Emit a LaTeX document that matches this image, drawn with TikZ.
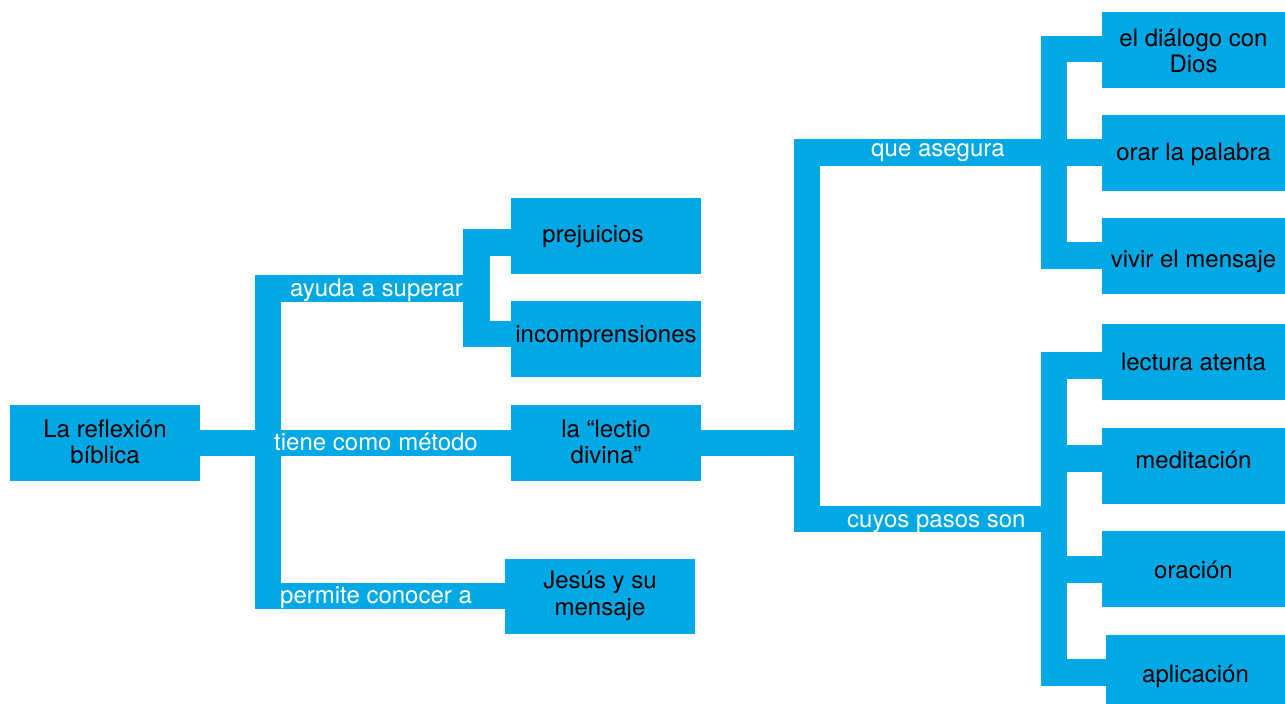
\documentclass[tikz,border=0pt]{standalone}
\usepackage{fontspec}
\setmainfont{TeX Gyre Heros}
\usetikzlibrary{backgrounds}
\definecolor{cbl}{RGB}{0,168,230}
% strut with extra height (#1) and extra depth (#2), in pt
\newcommand\mystrut[2]{\rule[-\dimexpr 7.95pt+#2pt\relax]{0pt}{\dimexpr 26.5pt+#1pt+#2pt\relax}}
\begin{document}
\begin{tikzpicture}[x=1pt,y=-1pt,
  bar/.style={draw=cbl, line width=26.5pt, line cap=rect},
  cbox/.style={fill=cbl, inner sep=0pt, minimum width=190pt, minimum height=76pt,
    font=\fontsize{24}{26.5}\selectfont, align=center, text=black},
  rbox/.style={cbox, minimum width=183pt},
  lab/.style={anchor=base west, inner sep=0pt, text=white, font=\fontsize{24}{26.5}\selectfont}]
\useasboundingbox (0,0) rectangle (1285,704);

% junction coordinates
\coordinate (lv1) at (268,288.5);
\coordinate (lv2) at (268,596);
\coordinate (sv1) at (476.5,242.5);
\coordinate (sv2) at (476.5,334);
\coordinate (bv1) at (807,152.5);
\coordinate (bv2) at (807,519);
\coordinate (uv1) at (1054,49);
\coordinate (uv2) at (1054,255.5);
\coordinate (dv1) at (1054,365.5);
\coordinate (dv2) at (1054,672.5);
\coordinate (dm1) at (1054,458.5);
\coordinate (dm2) at (1054,569.5);

% boxes
\node[cbox] (root) at (105,443) {\mystrut{4}{0}La reflexión\\\strut bíblica};
\node[cbox] (prej) at (606,236) {\mystrut{2}{0}prejuicios\kern26pt};
\node[cbox] (incomp) at (606,339) {\mystrut{0}{4}incomprensiones};
\node[cbox] (lectio) at (606,443) {\mystrut{4}{0}la “lectio\\\strut divina”};
\node[cbox, minimum height=75pt] (jesus) at (600,596.5) {\strut Jesús y su\\\strut mensaje};
\node[rbox] (dialogo) at (1193.5,50) {\mystrut{8}{0}el diálogo con\\\strut Dios};
\node[rbox] (orar) at (1193.5,153) {\mystrut{4}{0}orar la palabra};
\node[rbox] (vivir) at (1193.5,256) {\mystrut{12}{0}vivir el mensaje};
\node[rbox] (lectura) at (1193.5,362) {\mystrut{6}{0}lectura atenta};
\node[rbox] (medit) at (1193.5,466) {\mystrut{0}{6}meditación};
\node[rbox] (oracion) at (1193.5,569) {\mystrut{8}{0}oración};
\node[rbox, minimum width=179pt] (aplic) at (1195.5,673) {\mystrut{8}{0}aplicación};

% connectors (behind the boxes)
\begin{pgfonlayer}{background}
\draw[bar] (lv1) -- (lv2);
\draw[bar] (lv1) -- (sv1 |- lv1);
\draw[bar] (sv1) -- (sv2);
\draw[bar] (sv1) -- (prej.west |- sv1);
\draw[bar] (sv2) -- (incomp.west |- sv2);
\draw[bar] (lv2) -- (jesus.west |- lv2);
\draw[bar] (root.east) -- (lectio.west);
\draw[bar] (lectio.east) -- (bv1 |- lectio.east);
\draw[bar] (bv1) -- (bv2);
\draw[bar] (bv1) -- (orar.west |- bv1);
\draw[bar] (uv1) -- (uv2);
\draw[bar] (uv1) -- (dialogo.west |- uv1);
\draw[bar] (uv2) -- (vivir.west |- uv2);
\draw[bar] (bv2) -- (dv1 |- bv2);
\draw[bar] (dv1) -- (dv2);
\draw[bar] (dv1) -- (lectura.west |- dv1);
\draw[bar] (dm1) -- (medit.west |- dm1);
\draw[bar] (dm2) -- (oracion.west |- dm2);
\draw[bar] (dv2) -- (aplic.west |- dv2);
\end{pgfonlayer}

% connector labels
\node[lab] (l1) at (290,296) {ayuda a superar};
\node[lab] (l2) at (274,450) {tiene como método};
\node[lab] (l3) at (280,603) {permite conocer a};
\node[lab] (l4) at (871,156) {que asegura};
\node[lab] (l5) at (847,527) {cuyos pasos son};
\end{tikzpicture}
\end{document}
